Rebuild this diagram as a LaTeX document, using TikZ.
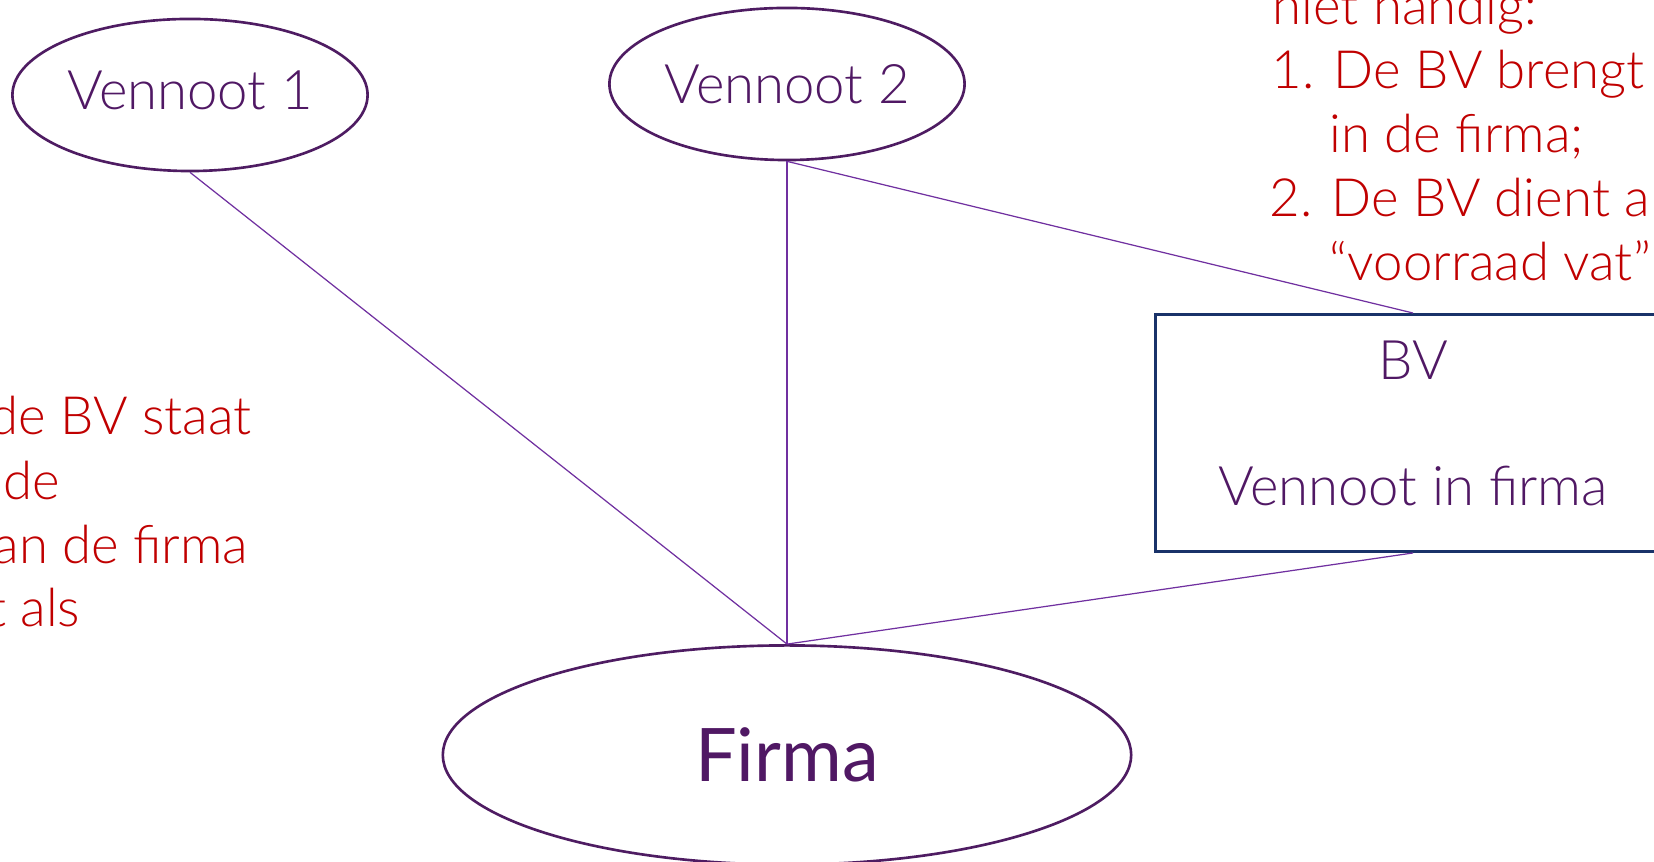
\documentclass[tikz,border=0pt]{standalone}
\usepackage{fontspec}
\setmainfont{Lato}
\newfontfamily\lightfont{Lato Light}
\usetikzlibrary{shapes.geometric, positioning}

\definecolor{txtpurple}{RGB}{80,24,100}
\definecolor{ellpurple}{RGB}{78,28,98}
\definecolor{linepurple}{RGB}{112,48,160}
\definecolor{boxblue}{RGB}{25,50,105}
\definecolor{notered}{RGB}{192,0,0}

\newcommand\partnerfont{\lightfont\fontsize{15.5}{19}\selectfont}
\newcommand\firmafont{\fontsize{21}{25}\selectfont}
\newcommand\notefont{\lightfont\fontsize{15}{18}\selectfont}

\begin{document}
\begin{tikzpicture}[x=0.01cm, y=-0.01cm,
  partner/.style={ellipse, draw=ellpurple, line width=0.75pt, text=txtpurple, inner sep=0pt},
  note/.style={text=notered, inner sep=0pt, font=\notefont},
  every edge/.style={draw=linepurple, line width=0.35pt}]
\useasboundingbox (0,0) rectangle (1654,862);
\clip (0,0) rectangle (1654,862);

\node[partner, minimum width=3.55cm, minimum height=1.52cm, font=\partnerfont, text depth=3pt](V1) at (190,95) {Vennoot 1};
\node[partner, minimum width=3.55cm, minimum height=1.52cm, font=\partnerfont](V2) at (787,84) {Vennoot 2};
\node[partner, minimum width=6.88cm, minimum height=2.19cm, font=\firmafont](Fi) at (787,755) {Firma};
\node[draw=boxblue, line width=0.8pt, minimum width=5.14cm, minimum height=2.37cm, inner sep=0pt,
  text=txtpurple, align=center, font=\partnerfont, text depth=5.5pt](BV) at (1413,433) {BV\\[17pt]Vennoot in firma};

\path(V1.south)edge(Fi.north);
\path(V2.south)edge(Fi.north);
\path(V2.south)edge(BV.north);
\path(BV.south)edge(Fi.north);

% notes, partly outside the slide
\node[note, anchor=base east](L1) at (252,435) {de BV staat};
\node[note, anchor=base east](L2) at (61,500) {de};
\node[note, anchor=base east](L3) at (249,564) {an de firma};
\node[note, anchor=base east](L4) at (81,627) {t als};

\node[note, anchor=base west](R0) at (1272,25) {niet handig:};
\node[note, anchor=base west](R1) at (1271,89) {1. De BV brengt};
\node[note, anchor=base west](R2) at (1329,153) {in de firma;};
\node[note, anchor=base west](R3) at (1269,217) {2. De BV dient a};
\node[note, anchor=base west](R4) at (1329,281) {“voorraad vat”};
\end{tikzpicture}
\end{document}
